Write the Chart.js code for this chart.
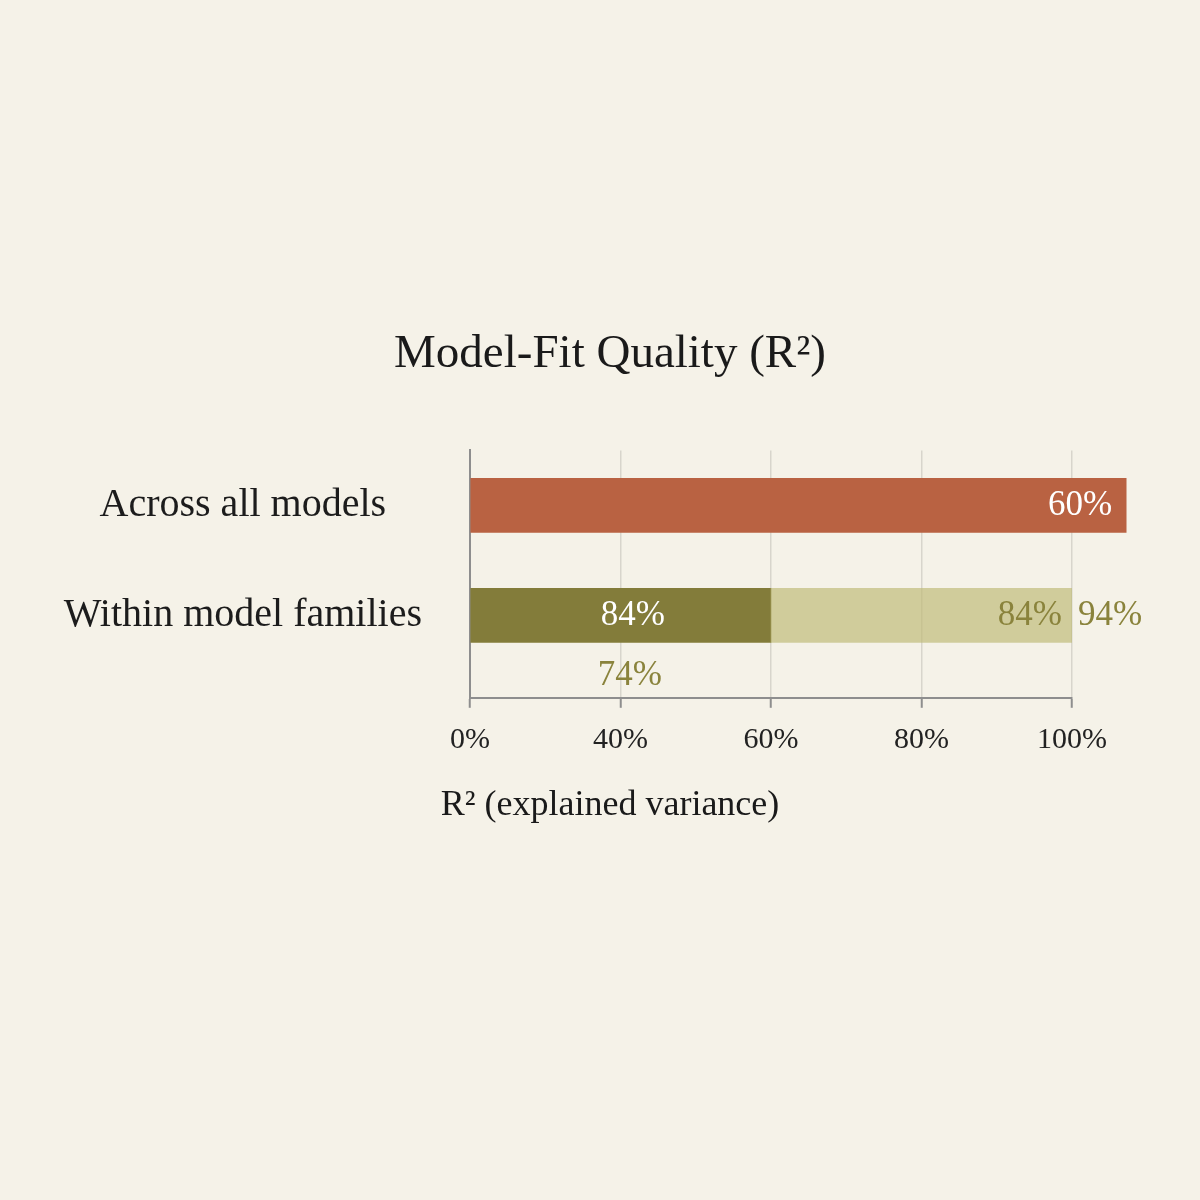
<!DOCTYPE html>
<html>
<head>
<meta charset="utf-8">
<title>Model-Fit Quality</title>
<script src="https://cdn.jsdelivr.net/npm/chart.js@4.4.1/dist/chart.umd.min.js"></script>
<style>
  html, body { margin: 0; padding: 0; background: #F5F2E8; }
  #wrap { width: 1200px; height: 1200px; position: relative; }
</style>
</head>
<body>
<div id="wrap"><canvas id="fitChart"></canvas></div>
<script>
// chart data
const categories = ['Across all models', 'Within model families'];
const tickValues = [0, 25, 50, 75, 100];
const tickLabels = ['0%', '40%', '60%', '80%', '100%'];
const acrossValues = [109, null];
const familyBaseValues = [null, 50];
const familyUpperValues = [null, [50, 100]];
const acrossLabels = ['60%', null];
const familyBaseLabels = [null, '84%'];
const familyUpperLabels = [null, '84%'];
const familyOuterLabels = [null, '94%'];
const familyBelowLabels = [null, '74%'];

const serif = '"Liberation Serif", "Times New Roman", serif';
const olive = '#8A833C';
const axisGrey = '#8E8E8E';
const gridGrey = '#D8D5CC';

function rows(values) {
    return categories
        .map((c, i) => ({ x: values[i], y: i }))
        .filter(d => d.x !== null);
}

// text on and around the bars
const barText = {
    id: 'barText',
    afterDatasetsDraw(chart) {
        const ctx = chart.ctx;
        ctx.save();
        ctx.font = '35px ' + serif;
        ctx.textBaseline = 'middle';
        chart.data.datasets.forEach((ds, d) => {
            const meta = chart.getDatasetMeta(d);
            meta.data.forEach((bar, j) => {
                const row = ds.data[j].y;
                (ds.textLabels || []).forEach(spec => {
                    const txt = spec.values[row];
                    if (!txt) return;
                    ctx.fillStyle = spec.color;
                    ctx.textAlign = spec.align;
                    let x = spec.at === 'end' ? bar.x : (bar.x + bar.base) / 2;
                    ctx.fillText(txt, x + spec.dx, bar.y + (spec.dy || 0));
                });
            });
        });
        ctx.restore();
    }
};

const ctx = document.getElementById('fitChart').getContext('2d');

let fitChart = new Chart(ctx, {
    type: 'bar',
    data: {
        datasets: [{
            label: 'Across all models',
            data: rows(acrossValues),
            backgroundColor: '#B96242',
            clip: false,
            textLabels: [{ values: acrossLabels, color: '#FFFFFF', align: 'right', at: 'end', dx: -14 }]
        }, {
            label: 'Within families (upper)',
            data: rows(familyUpperValues),
            backgroundColor: 'rgba(190, 186, 118, 0.68)',
            textLabels: [
                { values: familyUpperLabels, color: olive, align: 'right', at: 'end', dx: -10 },
                { values: familyOuterLabels, color: olive, align: 'left', at: 'end', dx: 6 }
            ]
        }, {
            label: 'Within families (base)',
            data: rows(familyBaseValues),
            backgroundColor: '#837C3A',
            textLabels: [
                { values: familyBaseLabels, color: '#FFFFFF', align: 'center', at: 'mid', dx: 12 },
                { values: familyBelowLabels, color: olive, align: 'center', at: 'mid', dx: 9, dy: 60 }
            ]
        }]
    },
    options: {
        indexAxis: 'y',
        responsive: true,
        maintainAspectRatio: false,
        animation: false,
        datasets: {
            bar: { grouped: false, barThickness: 54, borderWidth: 0 }
        },
        layout: {
            padding: { left: 20, right: 0, top: 0, bottom: 373 }
        },
        scales: {
            x: {
                type: 'linear',
                min: 0,
                max: 100,
                afterBuildTicks: s => { s.ticks = tickValues.map(v => ({ value: v })); },
                ticks: {
                    callback: (v, i) => tickLabels[i],
                    font: { family: serif, size: 30 },
                    color: '#222222',
                    padding: 14,
                    maxRotation: 0
                },
                grid: {
                    color: c => (c.tick && c.tick.value === 0) ? 'rgba(0,0,0,0)' : gridGrey,
                    lineWidth: 1.5,
                    tickColor: axisGrey,
                    tickWidth: 2,
                    tickLength: 10
                },
                border: { display: true, color: axisGrey, width: 2 }
            },
            y: {
                type: 'linear',
                reverse: true,
                offset: false,
                min: -0.5,
                max: 1.75,
                afterBuildTicks: s => { s.ticks = categories.map((c, i) => ({ value: i })); },
                afterFit: s => { s.width = 450; },
                ticks: {
                    callback: v => categories[v],
                    font: { family: serif, size: 40 },
                    color: '#1C1C1C',
                    crossAlign: 'center',
                    padding: 48
                },
                grid: { display: false, drawTicks: false },
                border: { display: true, color: axisGrey, width: 2 }
            },
            pad: {
                type: 'linear',
                position: 'right',
                display: true,
                afterFit: s => { s.width = 128; },
                ticks: { display: false },
                grid: { display: false, drawTicks: false },
                border: { display: false }
            }
        },
        plugins: {
            legend: { display: false },
            tooltip: { enabled: false },
            title: {
                display: true,
                text: 'Model-Fit Quality (R²)',
                color: '#1A1A1A',
                font: { family: serif, size: 47, weight: 'normal' },
                padding: { top: 326, bottom: 68 }
            },
            subtitle: {
                display: true,
                position: 'bottom',
                text: 'R² (explained variance)',
                color: '#1A1A1A',
                font: { family: serif, size: 36, weight: 'normal' },
                padding: { top: 12, bottom: 0 }
            }
        }
    },
    plugins: [barText]
});
</script>
</body>
</html>
